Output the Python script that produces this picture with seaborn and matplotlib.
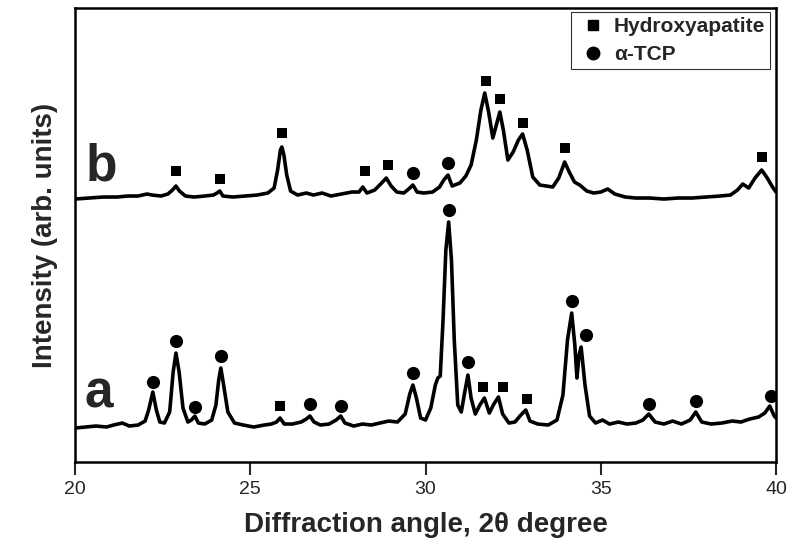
import matplotlib
matplotlib.use("Agg")
import matplotlib.pyplot as plt
import seaborn as sns
import pandas as pd
from matplotlib.lines import Line2D

sns.set_theme(style="ticks")
plt.rcParams['font.family'] = ['Liberation Sans', 'DejaVu Sans']

# pattern a (alpha-TCP rich), 2theta vs intensity (arb.)
a_2theta = [20.0, 20.3, 20.6, 20.9, 21.1, 21.35, 21.55, 21.8, 22.0, 22.1, 22.22, 22.32, 22.42, 22.55,
            22.7, 22.8, 22.88, 22.97, 23.08, 23.22, 23.32, 23.42, 23.52, 23.7, 23.9, 24.02, 24.1, 24.16,
            24.24, 24.36, 24.55, 24.8, 25.1, 25.4, 25.6, 25.75, 25.85, 25.97, 26.2, 26.45, 26.6, 26.7,
            26.82, 27.0, 27.25, 27.45, 27.58, 27.7, 27.95, 28.2, 28.45, 28.7, 28.95, 29.2, 29.42, 29.55,
            29.64, 29.74, 29.86, 30.0, 30.15, 30.28, 30.35, 30.42, 30.5, 30.58, 30.66, 30.74, 30.82, 30.92,
            31.02, 31.12, 31.21, 31.3, 31.42, 31.55, 31.68, 31.82, 31.95, 32.08, 32.2, 32.38, 32.55, 32.72,
            32.86, 32.98, 33.2, 33.5, 33.75, 33.92, 34.05, 34.17, 34.26, 34.32, 34.38, 34.44, 34.55, 34.68,
            34.85, 35.05, 35.25, 35.5, 35.75, 36.0, 36.2, 36.37, 36.55, 36.8, 37.05, 37.3, 37.55, 37.71,
            37.88, 38.15, 38.45, 38.75, 39.0, 39.25, 39.5, 39.68, 39.82, 39.95, 40.0]
a_int = [34, 35, 36, 35, 37, 39, 36, 37, 41, 52, 70, 52, 40, 39,
         50, 90, 109, 90, 54, 40, 42, 46, 39, 38, 42, 57, 82, 94,
         77, 50, 39, 37, 35, 37, 38, 40, 44, 38, 38, 40, 43, 46,
         40, 37, 38, 42, 46, 39, 36, 38, 37, 39, 41, 40, 48, 68,
         77, 64, 44, 42, 54, 77, 84, 86, 142, 212, 240, 202, 122, 57,
         50, 70, 87, 64, 48, 57, 64, 49, 58, 65, 48, 39, 40, 47,
         52, 41, 38, 37, 42, 67, 122, 149, 117, 84, 107, 115, 77, 46,
         39, 42, 38, 40, 38, 39, 42, 48, 40, 38, 41, 38, 42, 50,
         40, 38, 39, 41, 40, 43, 45, 49, 56, 46, 44]

# pattern b (hydroxyapatite rich)
b_2theta = [20.0, 20.4, 20.8, 21.2, 21.5, 21.8, 22.05, 22.2, 22.45, 22.65, 22.78, 22.88, 22.98, 23.15,
            23.4, 23.7, 23.95, 24.05, 24.13, 24.22, 24.5, 24.85, 25.2, 25.5, 25.68, 25.78, 25.86, 25.9,
            25.96, 26.04, 26.15, 26.35, 26.6, 26.8, 27.05, 27.3, 27.6, 27.9, 28.1, 28.21, 28.33, 28.55,
            28.72, 28.88, 29.02, 29.18, 29.38, 29.52, 29.64, 29.76, 29.95, 30.2, 30.4, 30.52, 30.64, 30.76,
            30.98, 31.15, 31.3, 31.45, 31.58, 31.69, 31.8, 31.92, 32.02, 32.12, 32.22, 32.35, 32.5, 32.65,
            32.77, 32.9, 33.06, 33.26, 33.45, 33.63, 33.8, 33.97, 34.1, 34.25, 34.4, 34.6, 34.8, 35.0,
            35.2, 35.4, 35.7, 36.0, 36.4, 36.8, 37.2, 37.6, 38.0, 38.4, 38.7, 38.9, 39.05, 39.22,
            39.4, 39.59, 39.75, 39.9, 40.0]
b_int = [263, 264, 265, 265, 266, 266, 268, 267, 266, 268, 272, 276, 271, 266,
         265, 266, 267, 269, 271, 266, 265, 266, 267, 269, 274, 292, 312, 315,
         307, 287, 271, 267, 269, 267, 269, 266, 268, 270, 270, 275, 269, 272,
         278, 284, 276, 270, 269, 273, 277, 270, 269, 270, 275, 282, 287, 276,
         279, 286, 297, 322, 352, 369, 350, 324, 337, 350, 332, 302, 310, 322,
         328, 312, 285, 277, 276, 275, 284, 300, 290, 280, 277, 271, 269, 270,
         273, 268, 265, 264, 264, 263, 264, 264, 265, 266, 267, 272, 278, 274,
         284, 292, 284, 275, 270]

# phase markers (Hydroxyapatite = square, alpha-TCP = circle)
hap_2theta = [25.85, 31.63, 32.2, 32.9, 22.88, 24.13, 25.9, 28.27, 28.93, 31.72, 32.12, 32.77, 33.97, 39.59]
hap_int = [56, 75, 75, 63, 291, 283, 329, 291, 297, 381, 363, 339, 314, 305]
tcp_2theta = [22.22, 22.88, 23.42, 24.16, 26.7, 27.58, 29.64, 30.66, 31.21, 34.17, 34.57, 36.37, 37.71, 39.86,
              29.64, 30.64]
tcp_int = [80, 121, 55, 106, 58, 56, 89, 252, 100, 161, 127, 58, 61, 66, 289, 299]

fig = plt.figure(figsize=(7.93, 5.46), dpi=100)
ax = fig.add_axes([0.0946, 0.1538, 0.884, 0.8315])

df_a = pd.DataFrame({"x": a_2theta, "y": a_int})
df_b = pd.DataFrame({"x": b_2theta, "y": b_int})
sns.lineplot(data=df_a, x="x", y="y", ax=ax, color="black", lw=2.6, sort=False)
sns.lineplot(data=df_b, x="x", y="y", ax=ax, color="black", lw=2.6, sort=False)
sns.scatterplot(x=hap_2theta, y=hap_int, ax=ax, marker="s", s=50, color="black", edgecolor="black", linewidth=0)
sns.scatterplot(x=tcp_2theta, y=tcp_int, ax=ax, marker="o", s=90, color="black", edgecolor="black", linewidth=0)

ax.text(20.3, 282, "b", fontsize=37, fontweight="bold", ha="left", va="baseline")
ax.text(20.28, 55, "a", fontsize=37, fontweight="bold", ha="left", va="baseline")

ax.set_xlim(20, 40)
ax.set_ylim(0, 454)
ax.set_xticks([20, 25, 30, 35, 40])
ax.set_yticks([])
ax.tick_params(axis="x", direction="out", length=9, width=1.5, labelsize=14, pad=5)
for sp in ax.spines.values():
    sp.set_linewidth(1.8)
    sp.set_color("black")

ax.set_xlabel("Diffraction angle, 2\u03b8 degree", fontsize=20, fontweight="bold", labelpad=10)
ax.set_ylabel("Intensity (arb. units)", fontsize=20, fontweight="bold", labelpad=12)

handles = [Line2D([], [], ls="none", marker="s", color="black", markersize=7),
           Line2D([], [], ls="none", marker="o", color="black", markersize=9)]
leg = ax.legend(handles, ["Hydroxyapatite", "\u03b1-TCP"], loc="upper right",
                bbox_to_anchor=(0.992, 0.992), frameon=True, fancybox=False,
                prop={"weight": "bold", "size": 15}, handletextpad=0.2, handlelength=1.6,
                borderpad=0.25, labelspacing=0.45, borderaxespad=0.0)
leg.get_frame().set_edgecolor("black")
leg.get_frame().set_linewidth(0.8)

fig.savefig("out.png", dpi=100)
